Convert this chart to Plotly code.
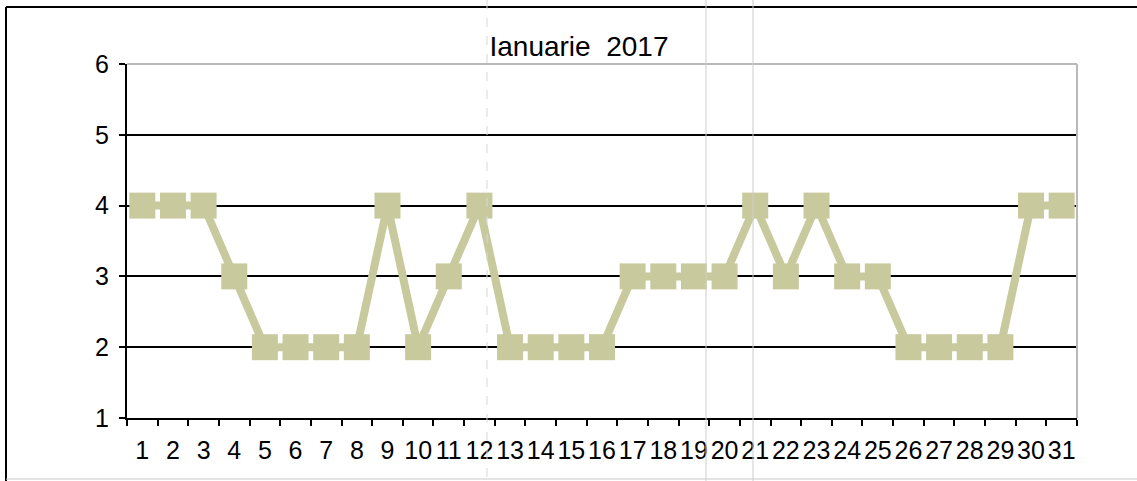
import plotly.graph_objects as go

days = [str(d) for d in range(1, 32)]
values = [4, 4, 4, 3, 2, 2, 2, 2, 4, 2, 3, 4, 2, 2, 2, 2, 3, 3, 3, 3, 4, 3, 4, 3, 3, 2, 2, 2, 2, 4, 4]
title_text = "Ianuarie  2017"

W, H = 1137, 481
L, R, T, B = 127, 1077, 64, 418

col = "rgb(200,202,158)"

fig = go.Figure()
fig.add_trace(go.Scatter(
    x=days, y=values, mode="lines+markers",
    line=dict(color=col, width=8),
    marker=dict(symbol="square", size=26, color=col, line=dict(width=0)),
    showlegend=False, hoverinfo="x+y"))

fig.update_layout(
    width=W, height=H,
    margin=dict(l=L, r=W - R, t=T, b=H - B),
    paper_bgcolor="white", plot_bgcolor="white",
    font=dict(family="Liberation Sans, Arial, sans-serif", color="black", size=25),
    title=dict(text=title_text, x=579 / W, xanchor="center", y=1 - 46 / H, yanchor="middle",
               font=dict(size=28)),
    xaxis=dict(type="category", range=[-0.5, 30.5], showgrid=False,
               showline=True, linecolor="black", linewidth=2,
               ticks="outside", ticklen=6, tickwidth=2, tickcolor="black",
               tickson="boundaries", tickfont=dict(size=25), tickangle=0,
               ticklabelstandoff=9, mirror=False, zeroline=False),
    yaxis=dict(range=[1, 6], dtick=1, showgrid=True, gridcolor="black", gridwidth=2,
               showline=True, linecolor="black", linewidth=2,
               ticks="outside", ticklen=6, tickwidth=2, tickcolor="black",
               tickfont=dict(size=25), zeroline=False, ticklabelstandoff=5),
)

shapes = []
shapes.append(dict(type="line", xref="paper", yref="paper", x0=0, x1=1, y0=1, y1=1,
                   line=dict(color="rgb(185,185,185)", width=2), layer="above"))
shapes.append(dict(type="line", xref="paper", yref="paper", x0=1, x1=1, y0=0, y1=1,
                   line=dict(color="rgb(185,185,185)", width=2), layer="above"))


def px(x):
    return (x - L) / (R - L)


def py(y):
    return (B - y) / (B - T)


shapes.append(dict(type="line", xref="paper", yref="paper", x0=px(6), x1=px(1137), y0=py(7), y1=py(7),
                   line=dict(color="black", width=2)))
shapes.append(dict(type="line", xref="paper", yref="paper", x0=px(6), x1=px(6), y0=py(7), y1=py(481),
                   line=dict(color="black", width=2)))
shapes.append(dict(type="line", xref="paper", yref="paper", x0=px(6), x1=px(1137), y0=py(479), y1=py(479),
                   line=dict(color="rgb(200,200,200)", width=1)))
for xx in (706, 753):
    shapes.append(dict(type="line", xref="paper", yref="paper", x0=px(xx), x1=px(xx), y0=py(0), y1=py(481),
                       line=dict(color="rgb(205,205,205)", width=1), layer="above"))
shapes.append(dict(type="line", xref="paper", yref="paper", x0=px(487), x1=px(487), y0=py(0), y1=py(481),
                   line=dict(color="rgb(215,215,215)", width=1, dash="dash"), layer="above"))
fig.update_layout(shapes=shapes)

fig.write_html("out.html", config={"displayModeBar": False},
               post_script="document.body.style.margin='0px';document.body.style.overflow='hidden';")
